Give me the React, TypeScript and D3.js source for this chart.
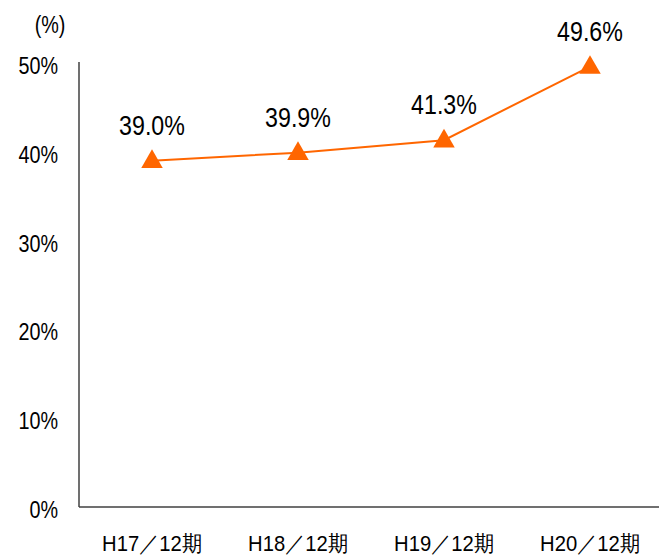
import React from 'react';
import * as d3 from 'd3';

const categories = ['H17／12期', 'H18／12期', 'H19／12期', 'H20／12期'];
const values = [39.0, 39.9, 41.3, 49.6];
const valueLabels = ['39.0%', '39.9%', '41.3%', '49.6%'];
const yTicks = [0, 10, 20, 30, 40, 50];

const W = 659;
const H = 557;
const ORANGE = '#ff6600';
const FONT = '"Liberation Sans", Arial, sans-serif';

// the original text looks a bit narrow, so squeeze horizontally
const Label: React.FC<{ x: number; y: number; size: number; anchor: string; sx?: number; children: React.ReactNode }> = ({ x, y, size, anchor, sx = 0.86, children }) => (
    <text
        transform={`translate(${x},${y}) scale(${sx},1)`}
        fontSize={size}
        fontFamily={FONT}
        textAnchor={anchor}
        fill="#000"
    >
        {children}
    </text>
);

const App: React.FC = () => {
    const x = d3.scaleBand<string>().domain(categories).range([79, 663]);
    const y = d3.scaleLinear().domain([0, 50]).range([507, 63]);
    const cx = (c: string) => (x(c) ?? 0) + x.bandwidth() / 2;

    const line = d3.line<number>()
        .x((_, i) => cx(categories[i]))
        .y(d => y(d));

    const tri = d3.symbol().type(d3.symbolTriangle).size(200)();

    return (
        <svg width={W} height={H} style={{ position: 'absolute', left: 0, top: 0 }}>
            <rect width={W} height={H} fill="#fff" />

            {/* axes */}
            <line x1={79} x2={79} y1={y(50) - 1} y2={y(0)} stroke="#404040" strokeWidth={1.5} />
            <line x1={79} x2={W} y1={y(0)} y2={y(0)} stroke="#404040" strokeWidth={1.5} />

            {yTicks.map(t => (
                <Label key={t} x={58} y={y(t) + 11} size={23} anchor="end">{`${t}%`}</Label>
            ))}
            <Label x={50} y={33} size={23} anchor="middle">(%)</Label>

            {categories.map(c => (
                <Label key={c} x={cx(c)} y={551} size={22} sx={0.92} anchor="middle">{c}</Label>
            ))}

            <path d={line(values) || ''} fill="none" stroke={ORANGE} strokeWidth={2} />

            {values.map((v, i) => (
                <g key={i}>
                    <path d={tri || ''} transform={`translate(${cx(categories[i])},${y(v) + 1})`} fill={ORANGE} />
                    <Label x={cx(categories[i])} y={y(v) - 26} size={27} anchor="middle">{valueLabels[i]}</Label>
                </g>
            ))}
        </svg>
    );
};

export default App;
